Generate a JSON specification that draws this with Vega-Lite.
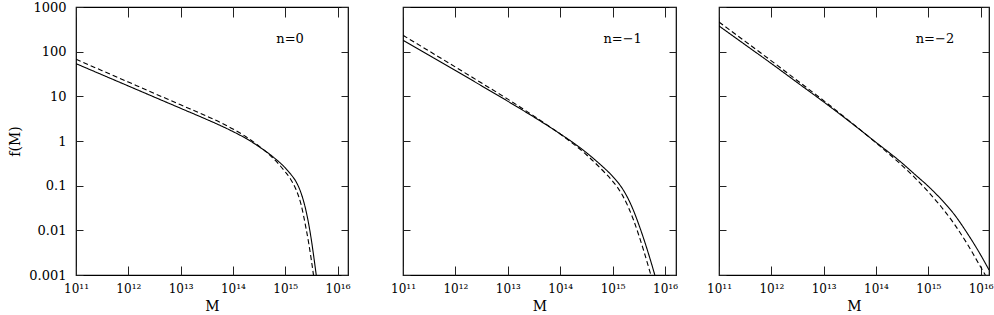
{
  "$schema": "https://vega.github.io/schema/vega-lite/v6.json",
  "padding": {"left": 8, "top": 0, "right": 0, "bottom": 0},
  "autosize": {"type": "pad"},
  "config": {
    "view": {"stroke": "black", "strokeWidth": 1.2},
    "font": "DejaVu Serif",
    "axis": {"domain": false, "grid": false, "tickColor": "#222", "tickWidth": 1, "labelFont": "DejaVu Serif", "titleFont": "DejaVu Serif", "titleFontWeight": "normal", "labelColor": "black", "titleColor": "black", "labelOverlap": false, "labelFlush": false}
  },
  "datasets": {
    "curves": [
      {"panel": "n=0", "series": "solid", "M": 1e11, "f": 53.95},
      {"panel": "n=0", "series": "solid", "M": 3.162e11, "f": 30.34},
      {"panel": "n=0", "series": "solid", "M": 1e12, "f": 17.06},
      {"panel": "n=0", "series": "solid", "M": 3.162e12, "f": 9.594},
      {"panel": "n=0", "series": "solid", "M": 1e13, "f": 5.395},
      {"panel": "n=0", "series": "solid", "M": 3.162e13, "f": 3.034},
      {"panel": "n=0", "series": "solid", "M": 5.623e13, "f": 2.249},
      {"panel": "n=0", "series": "solid", "M": 1e14, "f": 1.629},
      {"panel": "n=0", "series": "solid", "M": 1.778e14, "f": 1.14},
      {"panel": "n=0", "series": "solid", "M": 3.162e14, "f": 0.7447},
      {"panel": "n=0", "series": "solid", "M": 5.623e14, "f": 0.4571},
      {"panel": "n=0", "series": "solid", "M": 1e15, "f": 0.25},
      {"panel": "n=0", "series": "solid", "M": 1.259e15, "f": 0.1832},
      {"panel": "n=0", "series": "solid", "M": 1.585e15, "f": 0.1268},
      {"panel": "n=0", "series": "solid", "M": 1.995e15, "f": 0.06966},
      {"panel": "n=0", "series": "solid", "M": 2.512e15, "f": 0.02649},
      {"panel": "n=0", "series": "solid", "M": 2.818e15, "f": 0.01358},
      {"panel": "n=0", "series": "solid", "M": 3.162e15, "f": 0.006067},
      {"panel": "n=0", "series": "solid", "M": 3.548e15, "f": 0.00236},
      {"panel": "n=0", "series": "solid", "M": 3.917e15, "f": 0.001},
      {"panel": "n=0", "series": "dashed", "M": 1e11, "f": 67.61},
      {"panel": "n=0", "series": "dashed", "M": 3.162e11, "f": 37.58},
      {"panel": "n=0", "series": "dashed", "M": 1e12, "f": 20.89},
      {"panel": "n=0", "series": "dashed", "M": 3.162e12, "f": 11.61},
      {"panel": "n=0", "series": "dashed", "M": 1e13, "f": 6.457},
      {"panel": "n=0", "series": "dashed", "M": 3.162e13, "f": 3.589},
      {"panel": "n=0", "series": "dashed", "M": 5.623e13, "f": 2.63},
      {"panel": "n=0", "series": "dashed", "M": 1e14, "f": 1.862},
      {"panel": "n=0", "series": "dashed", "M": 1.778e14, "f": 1.245},
      {"panel": "n=0", "series": "dashed", "M": 3.162e14, "f": 0.7674},
      {"panel": "n=0", "series": "dashed", "M": 5.623e14, "f": 0.4315},
      {"panel": "n=0", "series": "dashed", "M": 1e15, "f": 0.2042},
      {"panel": "n=0", "series": "dashed", "M": 1.259e15, "f": 0.1413},
      {"panel": "n=0", "series": "dashed", "M": 1.585e15, "f": 0.08511},
      {"panel": "n=0", "series": "dashed", "M": 1.995e15, "f": 0.0389},
      {"panel": "n=0", "series": "dashed", "M": 2.512e15, "f": 0.01072},
      {"panel": "n=0", "series": "dashed", "M": 2.818e15, "f": 0.00507},
      {"panel": "n=0", "series": "dashed", "M": 3.162e15, "f": 0.002138},
      {"panel": "n=0", "series": "dashed", "M": 3.467e15, "f": 0.001},
      {"panel": "n=-1", "series": "solid", "M": 1e11, "f": 179.9},
      {"panel": "n=-1", "series": "solid", "M": 3.162e11, "f": 82.79},
      {"panel": "n=-1", "series": "solid", "M": 1e12, "f": 38.02},
      {"panel": "n=-1", "series": "solid", "M": 3.162e12, "f": 17.18},
      {"panel": "n=-1", "series": "solid", "M": 1e13, "f": 7.762},
      {"panel": "n=-1", "series": "solid", "M": 3.162e13, "f": 3.428},
      {"panel": "n=-1", "series": "solid", "M": 1e14, "f": 1.445},
      {"panel": "n=-1", "series": "solid", "M": 1.778e14, "f": 0.912},
      {"panel": "n=-1", "series": "solid", "M": 3.162e14, "f": 0.5495},
      {"panel": "n=-1", "series": "solid", "M": 5.623e14, "f": 0.309},
      {"panel": "n=-1", "series": "solid", "M": 1e15, "f": 0.1622},
      {"panel": "n=-1", "series": "solid", "M": 1.259e15, "f": 0.1189},
      {"panel": "n=-1", "series": "solid", "M": 1.585e15, "f": 0.08128},
      {"panel": "n=-1", "series": "solid", "M": 1.995e15, "f": 0.05012},
      {"panel": "n=-1", "series": "solid", "M": 2.512e15, "f": 0.02754},
      {"panel": "n=-1", "series": "solid", "M": 3.162e15, "f": 0.01349},
      {"panel": "n=-1", "series": "solid", "M": 3.981e15, "f": 0.006166},
      {"panel": "n=-1", "series": "solid", "M": 5.012e15, "f": 0.00263},
      {"panel": "n=-1", "series": "solid", "M": 6.397e15, "f": 0.001},
      {"panel": "n=-1", "series": "dashed", "M": 1e11, "f": 232.8},
      {"panel": "n=-1", "series": "dashed", "M": 3.162e11, "f": 102.8},
      {"panel": "n=-1", "series": "dashed", "M": 1e12, "f": 45.39},
      {"panel": "n=-1", "series": "dashed", "M": 3.162e12, "f": 19.82},
      {"panel": "n=-1", "series": "dashed", "M": 1e13, "f": 8.65},
      {"panel": "n=-1", "series": "dashed", "M": 3.162e13, "f": 3.606},
      {"panel": "n=-1", "series": "dashed", "M": 1e14, "f": 1.435},
      {"panel": "n=-1", "series": "dashed", "M": 1.778e14, "f": 0.865},
      {"panel": "n=-1", "series": "dashed", "M": 3.162e14, "f": 0.492},
      {"panel": "n=-1", "series": "dashed", "M": 5.623e14, "f": 0.2582},
      {"panel": "n=-1", "series": "dashed", "M": 1e15, "f": 0.1259},
      {"panel": "n=-1", "series": "dashed", "M": 1.259e15, "f": 0.08913},
      {"panel": "n=-1", "series": "dashed", "M": 1.585e15, "f": 0.05754},
      {"panel": "n=-1", "series": "dashed", "M": 1.995e15, "f": 0.03311},
      {"panel": "n=-1", "series": "dashed", "M": 2.512e15, "f": 0.01698},
      {"panel": "n=-1", "series": "dashed", "M": 3.162e15, "f": 0.007762},
      {"panel": "n=-1", "series": "dashed", "M": 3.981e15, "f": 0.003311},
      {"panel": "n=-1", "series": "dashed", "M": 5.37e15, "f": 0.001},
      {"panel": "n=-2", "series": "solid", "M": 1e11, "f": 375.8},
      {"panel": "n=-2", "series": "solid", "M": 3.162e11, "f": 142.9},
      {"panel": "n=-2", "series": "solid", "M": 1e12, "f": 54.33},
      {"panel": "n=-2", "series": "solid", "M": 3.162e12, "f": 20.18},
      {"panel": "n=-2", "series": "solid", "M": 1e13, "f": 7.499},
      {"panel": "n=-2", "series": "solid", "M": 3.162e13, "f": 2.692},
      {"panel": "n=-2", "series": "solid", "M": 1e14, "f": 0.9333},
      {"panel": "n=-2", "series": "solid", "M": 3.162e14, "f": 0.3199},
      {"panel": "n=-2", "series": "solid", "M": 5.623e14, "f": 0.1758},
      {"panel": "n=-2", "series": "solid", "M": 1e15, "f": 0.09661},
      {"panel": "n=-2", "series": "solid", "M": 1.778e15, "f": 0.04898},
      {"panel": "n=-2", "series": "solid", "M": 3.162e15, "f": 0.02239},
      {"panel": "n=-2", "series": "solid", "M": 5.623e15, "f": 0.008414},
      {"panel": "n=-2", "series": "solid", "M": 1e16, "f": 0.002818},
      {"panel": "n=-2", "series": "solid", "M": 1.445e16, "f": 0.0013},
      {"panel": "n=-2", "series": "dashed", "M": 1e11, "f": 462.4},
      {"panel": "n=-2", "series": "dashed", "M": 3.162e11, "f": 169.8},
      {"panel": "n=-2", "series": "dashed", "M": 1e12, "f": 62.37},
      {"panel": "n=-2", "series": "dashed", "M": 3.162e12, "f": 22.39},
      {"panel": "n=-2", "series": "dashed", "M": 1e13, "f": 8.035},
      {"panel": "n=-2", "series": "dashed", "M": 3.162e13, "f": 2.754},
      {"panel": "n=-2", "series": "dashed", "M": 1e14, "f": 0.912},
      {"panel": "n=-2", "series": "dashed", "M": 3.162e14, "f": 0.2818},
      {"panel": "n=-2", "series": "dashed", "M": 5.623e14, "f": 0.1479},
      {"panel": "n=-2", "series": "dashed", "M": 1e15, "f": 0.07244},
      {"panel": "n=-2", "series": "dashed", "M": 1.778e15, "f": 0.0333},
      {"panel": "n=-2", "series": "dashed", "M": 3.162e15, "f": 0.01365},
      {"panel": "n=-2", "series": "dashed", "M": 5.623e15, "f": 0.004842},
      {"panel": "n=-2", "series": "dashed", "M": 1e16, "f": 0.001514},
      {"panel": "n=-2", "series": "dashed", "M": 1.23e16, "f": 0.001}
    ],
    "labels": [
      {"panel": "n=0", "label": "n=0", "M": 6.76e14, "f": 193},
      {"panel": "n=-1", "label": "n=−1", "M": 6.67e14, "f": 193},
      {"panel": "n=-2", "label": "n=−2", "M": 5.75e14, "f": 193}
    ]
  },
  "spacing": 55,
  "bounds": "flush",
  "hconcat": [
    {
      "width": 272, "height": 268,
      "layer": [
        {
          "data": {"name": "curves"},
          "transform": [{"filter": "datum.panel == 'n=0'"}],
          "mark": {"type": "line", "clip": true, "strokeWidth": 1.1, "color": "black", "interpolate": "monotone"},
          "encoding": {
            "x": {"field": "M", "type": "quantitative", "scale": {"type": "log", "domain": [1e11, 1.585e16], "nice": false},
              "axis": {"orient": "bottom", "values": [1e11, 1e12, 1e13, 1e14, 1e15, 1e16], "tickSize": -9, "labelPadding": 17, "labelFontSize": 12,
                "labelExpr": "datum.value < 5e11 ? '10¹¹' : datum.value < 5e12 ? '10¹²' : datum.value < 5e13 ? '10¹³' : datum.value < 5e14 ? '10¹⁴' : datum.value < 5e15 ? '10¹⁵' : '10¹⁶'",
                "title": "M", "titleFontSize": 14, "titlePadding": 5}},
            "y": {"field": "f", "type": "quantitative", "scale": {"type": "log", "domain": [0.001, 1000], "nice": false},
              "axis": {"orient": "left", "values": [0.001, 0.01, 0.1, 1, 10, 100, 1000], "tickSize": -7, "labelPadding": 17, "labelFontSize": 13, "format": "~g", "title": "f(M)", "titleFontSize": 14, "titlePadding": 6}},
            "strokeDash": {"field": "series", "type": "nominal", "scale": {"domain": ["solid", "dashed"], "range": [[1, 0], [5, 3]]}, "legend": null}
          }
        },
        {
          "data": {"name": "curves"},
          "transform": [{"filter": "datum.panel == 'n=0'"}],
          "mark": {"type": "line", "opacity": 0},
          "encoding": {
            "x": {"field": "M", "type": "quantitative", "axis": {"orient": "top", "values": [1e11, 1e12, 1e13, 1e14, 1e15, 1e16], "tickSize": -10, "labels": false, "title": null}},
            "y": {"field": "f", "type": "quantitative", "axis": {"orient": "right", "values": [0.001, 0.01, 0.1, 1, 10, 100, 1000], "tickSize": -7, "labels": false, "title": null}}
          }
        },
        {
          "data": {"name": "labels"},
          "transform": [{"filter": "datum.panel == 'n=0'"}],
          "mark": {"type": "text", "align": "left", "baseline": "middle", "fontSize": 13, "font": "DejaVu Serif", "color": "black"},
          "encoding": {
            "x": {"field": "M", "type": "quantitative", "axis": null},
            "y": {"field": "f", "type": "quantitative", "axis": null},
            "text": {"field": "label"}
          }
        }
      ],
      "resolve": {"axis": {"x": "independent", "y": "independent"}}
    },
    {
      "spacing": 43,
      "bounds": "flush",
      "hconcat": [
        {
          "width": 273, "height": 268,
          "layer": [
            {
              "data": {"name": "curves"},
              "transform": [{"filter": "datum.panel == 'n=-1'"}],
              "mark": {"type": "line", "clip": true, "strokeWidth": 1.1, "color": "black", "interpolate": "monotone"},
              "encoding": {
                "x": {"field": "M", "type": "quantitative", "scale": {"type": "log", "domain": [1e11, 1.622e16], "nice": false},
                  "axis": {"orient": "bottom", "values": [1e11, 1e12, 1e13, 1e14, 1e15, 1e16], "tickSize": -9, "labelPadding": 17, "labelFontSize": 12,
                    "labelExpr": "datum.value < 5e11 ? '10¹¹' : datum.value < 5e12 ? '10¹²' : datum.value < 5e13 ? '10¹³' : datum.value < 5e14 ? '10¹⁴' : datum.value < 5e15 ? '10¹⁵' : '10¹⁶'",
                    "title": "M", "titleFontSize": 14, "titlePadding": 5}},
                "y": {"field": "f", "type": "quantitative", "scale": {"type": "log", "domain": [0.001, 1000], "nice": false},
                  "axis": {"orient": "left", "values": [0.001, 0.01, 0.1, 1, 10, 100, 1000], "tickSize": -7, "labels": false, "title": null}},
                "strokeDash": {"field": "series", "type": "nominal", "scale": {"domain": ["solid", "dashed"], "range": [[1, 0], [5, 3]]}, "legend": null}
              }
            },
            {
              "data": {"name": "curves"},
              "transform": [{"filter": "datum.panel == 'n=-1'"}],
              "mark": {"type": "line", "opacity": 0},
              "encoding": {
                "x": {"field": "M", "type": "quantitative", "axis": {"orient": "top", "values": [1e11, 1e12, 1e13, 1e14, 1e15, 1e16], "tickSize": -10, "labels": false, "title": null}},
                "y": {"field": "f", "type": "quantitative", "axis": {"orient": "right", "values": [0.001, 0.01, 0.1, 1, 10, 100, 1000], "tickSize": -7, "labels": false, "title": null}}
              }
            },
            {
              "data": {"name": "labels"},
              "transform": [{"filter": "datum.panel == 'n=-1'"}],
              "mark": {"type": "text", "align": "left", "baseline": "middle", "fontSize": 13, "font": "DejaVu Serif", "color": "black"},
              "encoding": {
                "x": {"field": "M", "type": "quantitative", "axis": null},
                "y": {"field": "f", "type": "quantitative", "axis": null},
                "text": {"field": "label"}
              }
            }
          ],
          "resolve": {"axis": {"x": "independent", "y": "independent"}}
        },
        {
          "width": 270, "height": 268,
          "layer": [
            {
              "data": {"name": "curves"},
              "transform": [{"filter": "datum.panel == 'n=-2'"}],
              "mark": {"type": "line", "clip": true, "strokeWidth": 1.1, "color": "black", "interpolate": "monotone"},
              "encoding": {
                "x": {"field": "M", "type": "quantitative", "scale": {"type": "log", "domain": [1e11, 1.445e16], "nice": false},
                  "axis": {"orient": "bottom", "values": [1e11, 1e12, 1e13, 1e14, 1e15, 1e16], "tickSize": -9, "labelPadding": 17, "labelFontSize": 12,
                    "labelExpr": "datum.value < 5e11 ? '10¹¹' : datum.value < 5e12 ? '10¹²' : datum.value < 5e13 ? '10¹³' : datum.value < 5e14 ? '10¹⁴' : datum.value < 5e15 ? '10¹⁵' : '10¹⁶'",
                    "title": "M", "titleFontSize": 14, "titlePadding": 5}},
                "y": {"field": "f", "type": "quantitative", "scale": {"type": "log", "domain": [0.001, 1000], "nice": false},
                  "axis": {"orient": "left", "values": [0.001, 0.01, 0.1, 1, 10, 100, 1000], "tickSize": -7, "labels": false, "title": null}},
                "strokeDash": {"field": "series", "type": "nominal", "scale": {"domain": ["solid", "dashed"], "range": [[1, 0], [5, 3]]}, "legend": null}
              }
            },
            {
              "data": {"name": "curves"},
              "transform": [{"filter": "datum.panel == 'n=-2'"}],
              "mark": {"type": "line", "opacity": 0},
              "encoding": {
                "x": {"field": "M", "type": "quantitative", "axis": {"orient": "top", "values": [1e11, 1e12, 1e13, 1e14, 1e15, 1e16], "tickSize": -10, "labels": false, "title": null}},
                "y": {"field": "f", "type": "quantitative", "axis": {"orient": "right", "values": [0.001, 0.01, 0.1, 1, 10, 100, 1000], "tickSize": -7, "labels": false, "title": null}}
              }
            },
            {
              "data": {"name": "labels"},
              "transform": [{"filter": "datum.panel == 'n=-2'"}],
              "mark": {"type": "text", "align": "left", "baseline": "middle", "fontSize": 13, "font": "DejaVu Serif", "color": "black"},
              "encoding": {
                "x": {"field": "M", "type": "quantitative", "axis": null},
                "y": {"field": "f", "type": "quantitative", "axis": null},
                "text": {"field": "label"}
              }
            }
          ],
          "resolve": {"axis": {"x": "independent", "y": "independent"}}
        }
      ]
    }
  ]
}
